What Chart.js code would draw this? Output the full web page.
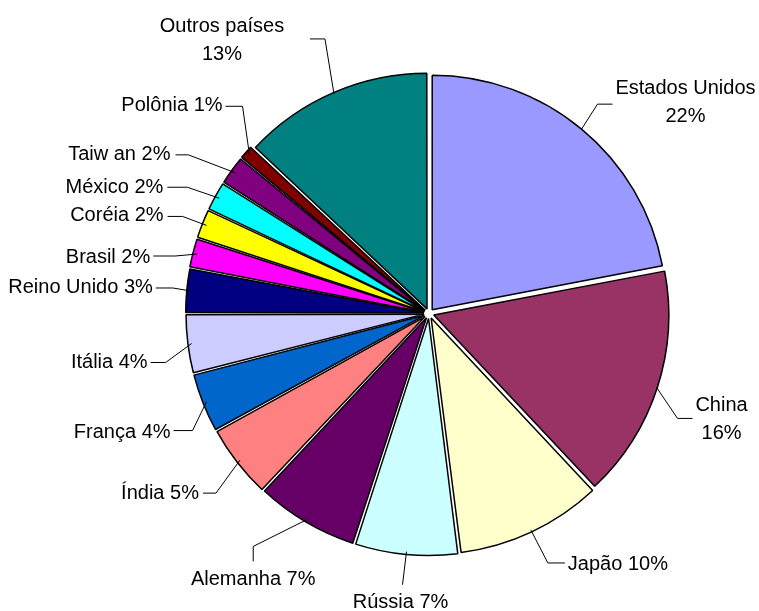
<!DOCTYPE html>
<html>
<head>
<meta charset="utf-8">
<script src="https://cdn.jsdelivr.net/npm/chart.js@4/dist/chart.umd.min.js"></script>
<style>
  html, body { margin: 0; padding: 0; background: #fff; }
  #wrap { width: 759px; height: 611px; }
</style>
</head>
<body>
<div id="wrap"><canvas id="myChart" width="759" height="611"></canvas></div>
<script>
// Share of each country (percent)
const countries = ['Estados Unidos', 'China', 'Japão', 'Rússia', 'Alemanha', 'Índia', 'França',
    'Itália', 'Reino Unido', 'Brasil', 'Coréia', 'México', 'Taiw an', 'Polônia', 'Outros países'];
const shares = [22, 16, 10, 7, 7, 5, 4, 4, 3, 2, 2, 2, 2, 1, 13];
const sliceColors = ['#9999FF', '#993366', '#FFFFCC', '#CCFFFF', '#660066', '#FF8080', '#0066CC',
    '#CCCCFF', '#000080', '#FF00FF', '#FFFF00', '#00FFFF', '#800080', '#800000', '#008080'];

// Leader line and text placement for each label:
// d = elbow from arc edge, h = horizontal run, v = vertical run,
// t = text offset from line end, two = name and percent on separate lines
const labelLayout = [
    { d: [16, -25], h: 15, t: [73, -17], align: 'center', two: true },
    { d: [21, 31], h: 15, t: [29, -14], align: 'center', two: true },
    { d: [17, 33], h: 17, t: [3, 0], align: 'left' },
    { d: [-4, 33], h: 0, t: [-2, 16], align: 'center' },
    { d: [-54, 27], h: 0, v: 15, t: [0, 17], align: 'center' },
    { d: [-24, 33], h: -13, t: [-4, -1], align: 'right' },
    { d: [-14, 29], h: -19, t: [-3, 0], align: 'right' },
    { d: [-26, 19], h: -15, t: [-3, -1.5], align: 'right' },
    { d: [-18, -3], h: -17, t: [-3, -1.5], align: 'right' },
    { d: [-22, 2], h: -22, t: [-3, 0], align: 'right' },
    { d: [-24, -9], h: -15, t: [-4, -2], align: 'right' },
    { d: [-32, -11], h: -20, t: [-4, -1.5], align: 'right' },
    { d: [-47, -18], h: -13, t: [-5, -1.5], align: 'right' },
    { d: [-7, -49], h: -17, t: [-3, -2.5], align: 'right' },
    { d: [-9, -55], h: -15, t: [-88, -14], align: 'center', two: true }
];

const SLICE_OFFSET = 20;

// Draws the outside labels with their leader lines
const outsideLabels = {
    id: 'outsideLabels',
    afterDatasetsDraw(chart) {
        const ctx = chart.ctx;
        const meta = chart.getDatasetMeta(0);
        ctx.save();
        ctx.strokeStyle = '#000';
        ctx.lineWidth = 1;
        ctx.fillStyle = '#000';
        ctx.font = '20px "Liberation Sans", Arial, sans-serif';
        ctx.textBaseline = 'alphabetic';
        meta.data.forEach((arc, i) => {
            const lay = labelLayout[i];
            const mid = (arc.startAngle + arc.endAngle) / 2;
            const r = arc.outerRadius + SLICE_OFFSET / 4;
            const px = arc.x + Math.cos(mid) * r;
            const py = arc.y + Math.sin(mid) * r;
            const ex = px + lay.d[0];
            const ey = py + lay.d[1];
            const lx = ex + (lay.h || 0);
            const ly = ey + (lay.v || 0);
            ctx.beginPath();
            ctx.moveTo(px, py);
            ctx.lineTo(ex, ey);
            ctx.lineTo(lx, ly);
            ctx.stroke();

            const pct = shares[i] + '%';
            const lines = lay.two ? [countries[i], pct] : [countries[i] + ' ' + pct];
            ctx.textAlign = lay.align;
            lines.forEach((txt, k) => {
                // +7 moves from cap centre to baseline
                ctx.fillText(txt, lx + lay.t[0], ly + lay.t[1] + k * 28 + 7);
            });
        });
        ctx.restore();
    }
};

const ctx = document.getElementById('myChart').getContext('2d');
const chart = new Chart(ctx, {
    type: 'pie',
    data: {
        labels: countries,
        datasets: [{
            data: shares,
            backgroundColor: sliceColors,
            borderColor: '#000',
            borderWidth: 1.5,
            offset: SLICE_OFFSET
        }]
    },
    options: {
        responsive: false,
        animation: false,
        layout: {
            padding: { left: 184, right: 85, top: 68, bottom: 52 }
        },
        plugins: {
            legend: { display: false },
            tooltip: { enabled: false }
        }
    },
    plugins: [outsideLabels]
});
</script>
</body>
</html>
